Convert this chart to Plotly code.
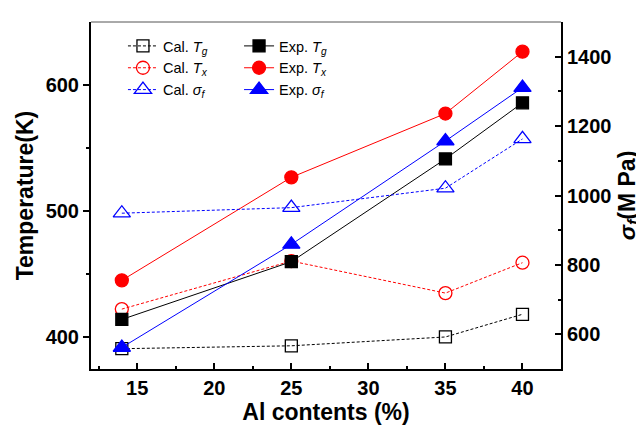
import plotly.graph_objects as go

al = [14, 25, 35, 40]
cal_tg = [390.5, 392.8, 399.8, 417.8]
exp_tg = [413.7, 459.5, 541.0, 585.5]
cal_tx = [421.9, 460.0, 434.6, 458.7]
exp_tx = [444.7, 526.4, 577.0, 626.1]
cal_sf = [949, 965, 1021, 1163]
exp_sf = [562, 859, 1157, 1311]

x_ticks = [15, 20, 25, 30, 35, 40]
t_ticks = [400, 500, 600]
s_ticks = [600, 800, 1000, 1200, 1400]

FONT = "Liberation Sans, Arial, sans-serif"
DASH = "3px,2px"

fig = go.Figure()

def add(y, name, color, symbol, size, dash, yaxis, legend):
    fig.add_trace(go.Scatter(
        x=al, y=y, name=name, mode="lines+markers",
        line=dict(color=color, width=1, dash=dash),
        marker=dict(symbol=symbol, size=size, color=color,
                    line=dict(color=color, width=1.3)),
        yaxis=yaxis, legend=legend))

add(cal_tg, "Cal. <i>T</i><sub><i>g</i></sub>", "black", "square-open", 12, DASH, "y", "legend")
add(cal_tx, "Cal. <i>T</i><sub><i>x</i></sub>", "red", "circle-open", 13, DASH, "y", "legend")
add(cal_sf, "Cal. <i>σ</i><sub><i>f</i></sub>", "blue", "triangle-up-open", 15, DASH, "y2", "legend")
add(exp_tg, "Exp. <i>T</i><sub><i>g</i></sub>", "black", "square", 12, "solid", "y", "legend2")
add(exp_tx, "Exp. <i>T</i><sub><i>x</i></sub>", "red", "circle", 13, "solid", "y", "legend2")
add(exp_sf, "Exp. <i>σ</i><sub><i>f</i></sub>", "blue", "triangle-up", 15, "solid", "y2", "legend2")

legend_common = dict(font=dict(family=FONT, size=14.5, color="black"),
                     bgcolor="rgba(0,0,0,0)", yanchor="top", xanchor="left",
                     tracegroupgap=0, itemwidth=30)

def bold(vals):
    return ["<b>%d</b>" % v for v in vals]

tickfont = dict(family=FONT, size=20, color="black")

fig.update_layout(
    width=644, height=425,
    margin=dict(l=83, r=91, t=14, b=57),
    paper_bgcolor="white", plot_bgcolor="white",
    font=dict(family=FONT, color="black"),
    legend=dict(x=0.068, y=0.977, **legend_common),
    legend2=dict(x=0.315, y=0.977, **legend_common),
    xaxis=dict(
        range=[12, 42.5], tickmode="array", tickvals=x_ticks, ticktext=bold(x_ticks),
        ticks="inside", ticklen=6, tickwidth=1.5, tickcolor="black",
        minor=dict(dtick=2.5, tick0=12.5, ticks="inside", ticklen=3, tickcolor="black", tickwidth=1.5),
        showline=True, linecolor="black", linewidth=2, mirror=False,
        showgrid=False, zeroline=False,
        tickfont=tickfont,
        title=dict(text="<b>Al contents (%)</b>", font=dict(family=FONT, size=23), standoff=6),
    ),
    yaxis=dict(
        range=[374.4, 649.6], tickmode="array", tickvals=t_ticks, ticktext=bold(t_ticks),
        ticks="outside", ticklen=6, tickwidth=1.5, tickcolor="black",
        minor=dict(dtick=50, tick0=400, ticks="outside", ticklen=3, tickcolor="black", tickwidth=1.5),
        showline=True, linecolor="black", linewidth=2,
        showgrid=False, zeroline=False,
        tickfont=tickfont,
        title=dict(text="<b>Temperature(K)</b>", font=dict(family=FONT, size=23), standoff=6),
    ),
    yaxis2=dict(
        overlaying="y", side="right",
        range=[500, 1500], tickmode="array", tickvals=s_ticks, ticktext=bold(s_ticks),
        ticks="inside", ticklen=6, tickwidth=1.5, tickcolor="black",
        minor=dict(dtick=100, tick0=600, ticks="inside", ticklen=3, tickcolor="black", tickwidth=1.5),
        showline=True, linecolor="black", linewidth=2,
        showgrid=False, zeroline=False,
        tickfont=tickfont,
        title=dict(text="<b><i>σ<sub>f</sub></i>(M Pa)</b>", font=dict(family=FONT, size=23), standoff=8),
    ),
    shapes=[dict(type="line", xref="paper", yref="paper", x0=0, x1=1, y0=1, y1=1,
                 line=dict(color="#555555", width=1))],
)

fig.write_html("out.html")
